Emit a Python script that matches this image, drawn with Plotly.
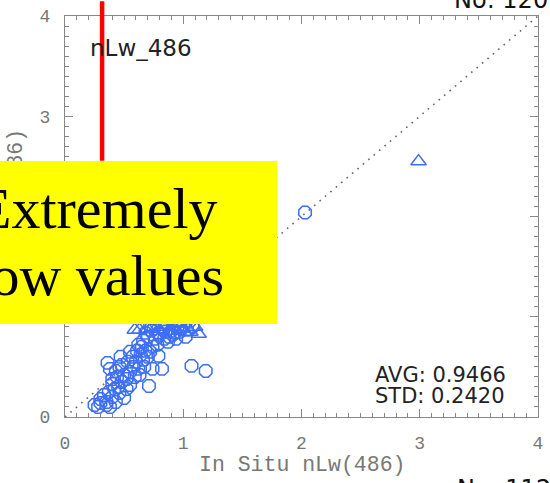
import plotly.graph_objects as go

# ---- data ----
circle_x = [0.25, 0.30, 0.35, 0.38, 0.43, 0.40, 0.50, 0.33, 0.37, 0.42, 0.40, 0.45, 0.48, 0.44,
            0.50, 0.52, 0.36, 0.38, 0.46, 0.55, 0.58, 0.53, 0.60, 0.62, 0.57, 0.64, 0.66, 0.70,
            0.68, 0.72, 0.74, 0.65, 0.61, 0.71, 0.74, 0.82, 1.07, 1.19, 0.79, 0.84, 0.78, 0.76,
            0.80, 0.85, 0.88, 0.90, 0.93, 0.95, 0.98, 1.00, 0.82, 0.86, 0.70, 0.73, 0.66, 0.62,
            0.55, 0.47, 0.43, 0.30, 0.28, 0.35, 0.46, 0.55, 0.52, 0.40, 0.48, 0.59, 0.63, 0.67,
            0.75, 0.83, 0.91, 0.97, 1.03, 1.08, 1.02, 0.94, 0.87, 0.79, 0.72, 0.68,
            1.05, 0.95, 1.10, 0.90, 1.20, 1.30, 2.03]
circle_y = [0.12, 0.14, 0.15, 0.10, 0.15, 0.20, 0.19, 0.22, 0.25, 0.28, 0.33, 0.30, 0.35, 0.40,
            0.42, 0.38, 0.54, 0.48, 0.50, 0.45, 0.50, 0.55, 0.55, 0.48, 0.60, 0.62, 0.57, 0.60,
            0.66, 0.65, 0.70, 0.70, 0.66, 0.31, 0.48, 0.48, 0.51, 0.46, 0.61, 0.78, 0.72, 0.78,
            0.82, 0.85, 0.80, 0.86, 0.84, 0.90, 0.88, 0.92, 0.90, 0.93, 0.80, 0.86, 0.76, 0.72,
            0.65, 0.60, 0.46, 0.18, 0.10, 0.12, 0.24, 0.32, 0.28, 0.38, 0.52, 0.40, 0.42, 0.50,
            0.88, 0.87, 0.82, 0.85, 0.87, 0.90, 0.80, 0.78, 0.75, 0.84, 0.92, 0.84,
            0.95, 1.00, 1.05, 1.10, 1.10, 1.25, 2.04]
tri_x = [0.59, 0.63, 0.70, 0.78, 0.85, 0.92, 1.00, 1.06, 1.13, 1.10, 0.96, 0.88, 0.80, 1.00, 2.99]
tri_y = [0.87, 0.87, 0.88, 0.90, 0.92, 0.90, 0.88, 0.85, 0.83, 0.90, 0.93, 0.86, 1.00, 1.05, 2.55]
diag = [0, 4]
tick_vals = [0, 1, 2, 3, 4]
tick_text = ["0", "1", "2", "3", "4"]

BLUE = "#3d6ef5"
W, H = 550, 483
ML, MR, MT, MB = 65, 7, 10, 66
PW, PH = W - ML - MR, H - MT - MB


def px(x):
    return (x - ML) / PW


def py(y):
    return (H - MB - y) / PH


fig = go.Figure()
fig.add_trace(go.Scatter(x=diag, y=diag, mode="lines",
                         line=dict(color="#666666", width=1.6, dash="1.6px,5.5px"),
                         hoverinfo="skip", showlegend=False))
fig.add_trace(go.Scatter(x=circle_x, y=circle_y, mode="markers",
                         marker=dict(symbol="octagon-open", size=13.5, color=BLUE,
                                     line=dict(color=BLUE, width=1.5)),
                         showlegend=False))
fig.add_trace(go.Scatter(x=tri_x, y=tri_y, mode="markers",
                         marker=dict(symbol="triangle-up-open", size=13.5, color=BLUE,
                                     line=dict(color=BLUE, width=1.5)),
                         showlegend=False))

axis_common = dict(range=[0, 4], tickvals=tick_vals, ticktext=tick_text,
                   ticks="inside", ticklen=8, tickwidth=1, tickcolor="#888888",
                   showline=True, linecolor="#888888", linewidth=1, mirror="ticks",
                   showgrid=False, zeroline=False,
                   tickfont=dict(family="Liberation Mono", size=18, color="#777777"),
                   minor=dict(dtick=0.1, ticks="inside", ticklen=4, tickcolor="#888888",
                              showgrid=False))

fig.update_layout(
    width=W, height=H,
    margin=dict(l=ML, r=MR, t=MT, b=MB, pad=0),
    paper_bgcolor="white", plot_bgcolor="white",
    xaxis=dict(**axis_common, ticklabelstandoff=9),
    yaxis=dict(**axis_common, ticklabelstandoff=10),
    shapes=[dict(type="line", xref="paper", yref="paper",
                 x0=px(102.5), x1=px(102.5), y0=py(157), y1=py(-5),
                 line=dict(color="#ff0000", width=4.5), layer="above")],
)

ann = [
    # axis titles
    dict(text="In Situ nLw(486)", x=px(304), y=py(466), xanchor="center", yanchor="middle",
         font=dict(family="Liberation Mono", size=21.5, color="#777777")),
    dict(text="MODIS nLw(486)", x=px(15), y=py(216), xanchor="center", yanchor="middle",
         textangle=-90, font=dict(family="Liberation Mono", size=21.5, color="#777777")),
    # in-plot labels
    dict(text="nLw_486", x=px(88), y=py(42), xanchor="left", yanchor="middle",
         font=dict(family="DejaVu Sans", size=23, color="#222222")),
    dict(text="AVG: 0.9466", x=px(376), y=py(374), xanchor="left", yanchor="middle",
         font=dict(family="DejaVu Sans", size=21, color="#222222")),
    dict(text="STD: 0.2420", x=px(376), y=py(396), xanchor="left", yanchor="middle",
         font=dict(family="DejaVu Sans", size=21, color="#222222")),
    # neighbouring panel fragments
    dict(text="No: 120", x=px(456), y=py(10), xanchor="left", yanchor="bottom",
         font=dict(family="DejaVu Sans", size=24, color="#111111")),
    dict(text="No: 112", x=px(459), y=py(474), xanchor="left", yanchor="top",
         font=dict(family="DejaVu Sans", size=24, color="#111111")),
    # yellow callout box
    dict(text=" ", x=px(279), y=py(157), xanchor="right", yanchor="top",
         width=320, height=163, bgcolor="#ffff00", borderpad=0, borderwidth=0,
         font=dict(size=10)),
    dict(text="Extremely", x=px(222), y=py(205), xanchor="right", yanchor="middle",
         font=dict(family="Liberation Serif", size=58, color="#000000")),
    dict(text="Low values", x=px(228), y=py(273), xanchor="right", yanchor="middle",
         font=dict(family="Liberation Serif", size=58, color="#000000")),
]
for a in ann:
    a.update(xref="paper", yref="paper", showarrow=False)
fig.update_layout(annotations=ann)

fig.write_html("out.html")
